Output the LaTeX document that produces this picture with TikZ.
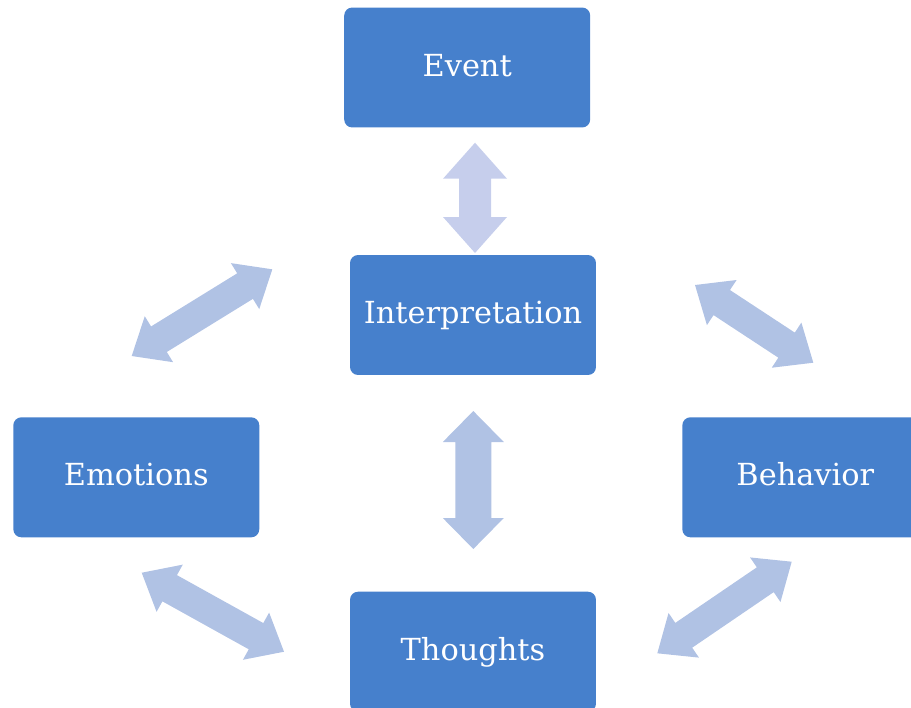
\documentclass[tikz,border=0pt]{standalone}
\usepackage{fontspec}
\setmainfont{DejaVu Serif}
\usetikzlibrary{calc}

\definecolor{boxblue}{RGB}{70,128,204}
\definecolor{arrowblue}{RGB}{176,194,228}
\definecolor{arrowpale}{RGB}{198,206,236}

% Filled two-headed block arrow between two named points:
% #1 fill style, #2 first tip, #3 second tip,
% #4 head length, #5 head half-width, #6 shaft half-width
\newcommand{\twowayarrow}[6]{%
  \fill[#1] (#2)
    -- ($(#2)!#4!(#3)!#5!90:(#3)$)
    -- ($(#2)!#4!(#3)!#6!90:(#3)$)
    -- ($(#3)!#4!(#2)!#6!-90:(#2)$)
    -- ($(#3)!#4!(#2)!#5!-90:(#2)$)
    -- (#3)
    -- ($(#3)!#4!(#2)!#5!90:(#2)$)
    -- ($(#3)!#4!(#2)!#6!90:(#2)$)
    -- ($(#2)!#4!(#3)!#6!-90:(#3)$)
    -- ($(#2)!#4!(#3)!#5!-90:(#3)$)
    -- cycle;}

\begin{document}
\begin{tikzpicture}[x=0.02cm,y=-0.02cm,
  stage/.style={rectangle, rounded corners=0.16cm, fill=boxblue, text=white,
    minimum width=4.92cm, minimum height=2.4cm, inner sep=0pt,
    font=\fontsize{17.3}{20}\selectfont, text height=0.98em, text depth=0pt}]
  \clip (0,0) rectangle (911,707);

  % stages of the cycle
  \node[stage] (event)  at (467.2,67.5)  {Event};
  \node[stage] (interp) at (473,315)     {Interpretation};
  \node[stage] (emot)   at (136.3,477.3) {Emotions};
  \node[stage] (behav)  at (805.3,477.3) {Behavior};
  \node[stage] (thought) at (473,651.7)  {Thoughts};

  % arrow tips
  \coordinate (ei1) at (475,142.7);
  \coordinate (ei2) at (475,253);
  \coordinate (it1) at (473.3,411);
  \coordinate (it2) at (473.3,549);
  \coordinate (ul1) at (131.7,356);
  \coordinate (ul2) at (272.3,269.3);
  \coordinate (ur1) at (695,285);
  \coordinate (ur2) at (813.3,362.7);
  \coordinate (lr1) at (657.3,653.3);
  \coordinate (lr2) at (791.7,561.7);
  \coordinate (ll1) at (141.7,572.7);
  \coordinate (ll2) at (284,651.7);

  % two-way links
  \twowayarrow{arrowpale}{ei1}{ei2}{0.72cm}{0.64cm}{0.32cm}
  \twowayarrow{arrowblue}{it1}{it2}{0.62cm}{0.61cm}{0.36cm}
  \twowayarrow{arrowblue}{ul1}{ul2}{0.64cm}{0.54cm}{0.3cm}
  \twowayarrow{arrowblue}{ur1}{ur2}{0.64cm}{0.54cm}{0.3cm}
  \twowayarrow{arrowblue}{lr1}{lr2}{0.64cm}{0.54cm}{0.3cm}
  \twowayarrow{arrowblue}{ll1}{ll2}{0.64cm}{0.54cm}{0.3cm}
\end{tikzpicture}
\end{document}
